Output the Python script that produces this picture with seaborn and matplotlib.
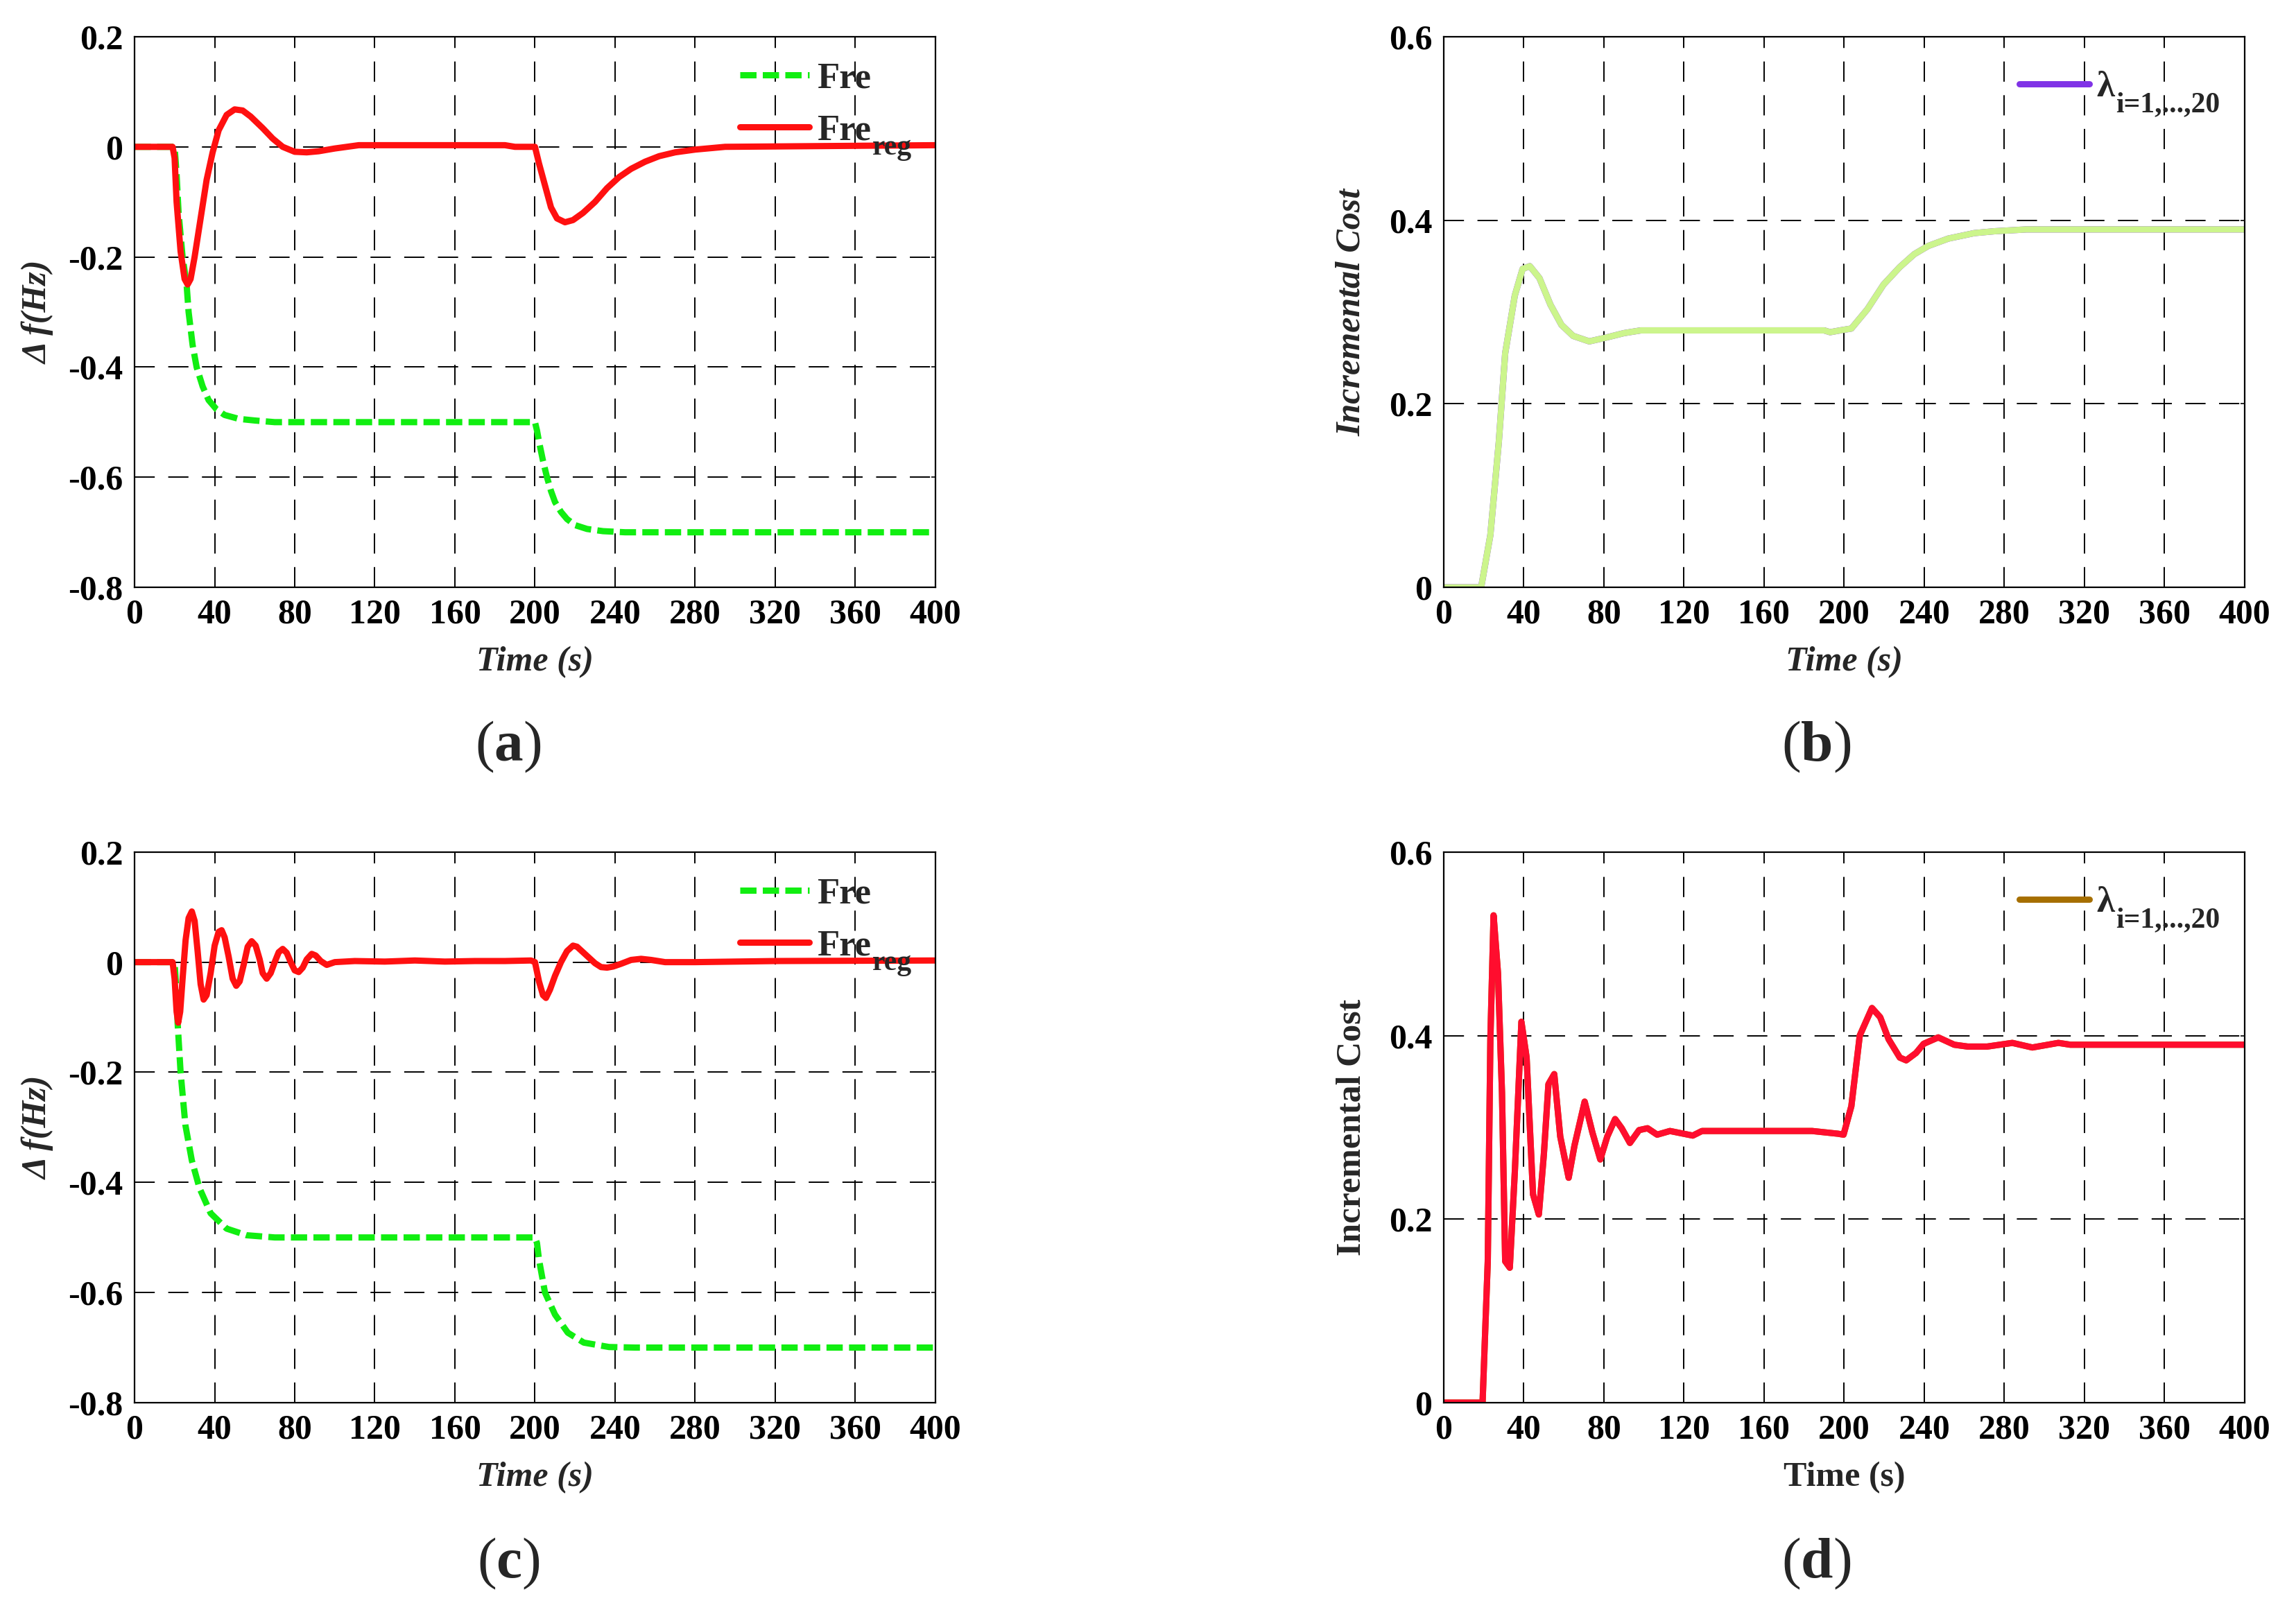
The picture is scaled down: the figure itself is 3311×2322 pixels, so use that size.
import numpy as np
import seaborn as sns
import matplotlib.pyplot as plt

# --------------------------------------------------
# Data
# --------------------------------------------------

TIME_TICKS = [0, 40, 80, 120, 160, 200, 240, 280, 320, 360, 400]
FREQ_TICKS = [-0.8, -0.6, -0.4, -0.2, 0.0, 0.2]
FREQ_TICK_LABELS = ["-0.8", "-0.6", "-0.4", "-0.2", "0", "0.2"]
COST_TICKS = [0.0, 0.2, 0.4, 0.6]
COST_TICK_LABELS = ["0", "0.2", "0.4", "0.6"]

# (a) frequency deviation, unregulated (Fre) and regulated (Fre_reg)
a_fre_t = [0, 20, 21, 22, 24, 26, 27, 29, 31, 34, 37, 41, 45, 52, 60, 70, 200,
           201, 202, 204, 206, 208, 210, 213, 216, 220, 226, 234, 245, 400]
a_fre_v = [0, 0, -0.05, -0.12, -0.2, -0.25, -0.3, -0.36, -0.4, -0.435, -0.46,
           -0.477, -0.487, -0.494, -0.497, -0.5, -0.5,
           -0.515, -0.535, -0.57, -0.6, -0.625, -0.645, -0.663, -0.676, -0.687,
           -0.694, -0.698, -0.7, -0.7]
a_reg_t = [0, 19, 20, 21, 23, 25, 26.5, 28, 30, 33, 36, 39, 42, 46, 50, 54, 58,
           64, 69, 74, 80, 86, 92, 100, 112, 185, 190, 200, 202, 205, 208, 211,
           215, 219, 224, 230, 236, 242, 248, 255, 262, 270, 280, 295, 400]
a_reg_v = [0, 0, -0.02, -0.1, -0.19, -0.24, -0.25, -0.24, -0.2, -0.13, -0.06,
           -0.01, 0.03, 0.058, 0.068, 0.066, 0.055, 0.034, 0.015, 0.0, -0.009,
           -0.01, -0.008, -0.003, 0.003, 0.003, 0.0, 0.0, -0.03, -0.07, -0.11,
           -0.13, -0.137, -0.133, -0.12, -0.1, -0.075, -0.055, -0.04, -0.027,
           -0.017, -0.01, -0.005, 0.0, 0.003]

# (b) incremental cost, smooth controller
b_cost_t = [0, 18.7, 23.3, 27.5, 30.7, 35.5, 39.4, 43, 47.8, 53.3, 58.8, 64.6,
            72.7, 80.8, 90, 98.5, 190, 193, 198, 203.6, 211.6, 219.7, 227.8,
            235, 242, 252, 265, 275, 291, 400]
b_cost_v = [0, 0, 0.057, 0.158, 0.255, 0.318, 0.347, 0.35, 0.337, 0.308,
            0.286, 0.274, 0.268, 0.272, 0.277, 0.28, 0.28, 0.278, 0.28, 0.282,
            0.303, 0.33, 0.349, 0.363, 0.372, 0.38, 0.386, 0.388, 0.39, 0.39]

# (c) frequency deviation, oscillating controller
c_fre_t = [0, 20, 21, 21.5, 23, 25.4, 28.6, 32.4, 38, 46, 56, 70, 200,
           201, 202, 205, 210, 216.4, 224.4, 237, 250, 400]
c_fre_v = [0, 0, -0.06, -0.11, -0.2, -0.296, -0.36, -0.41, -0.456, -0.484,
           -0.496, -0.5, -0.5, -0.51, -0.54, -0.6, -0.64, -0.673, -0.691,
           -0.699, -0.7, -0.7]
c_reg_t = [0, 19, 20, 21, 21.8, 22.8, 24, 25.5, 27, 28.6, 30, 31.5, 33, 34.5,
           36, 38, 40, 42, 43.5, 45, 47, 49, 50.8, 52.5, 54.5, 56.5, 58.5,
           60.5, 62.5, 64, 66, 68, 70, 72, 74, 76, 78, 80, 82, 84, 86, 88.5,
           90.5, 93, 96, 100, 110, 125, 140, 155, 170, 185, 198, 200, 202,
           204, 205.5, 207.5, 210, 213, 216, 219, 221, 224, 227, 230, 233,
           236, 239, 243, 248, 253, 258, 265, 280, 320, 400]
c_reg_v = [0, 0, -0.03, -0.09, -0.11, -0.09, -0.03, 0.04, 0.08, 0.092, 0.075,
           0.02, -0.04, -0.068, -0.06, -0.02, 0.03, 0.055, 0.058, 0.045, 0.01,
           -0.03, -0.043, -0.035, -0.005, 0.028, 0.038, 0.03, 0.005, -0.02,
           -0.03, -0.02, 0.0, 0.018, 0.024, 0.017, 0.0, -0.015, -0.018, -0.01,
           0.005, 0.015, 0.012, 0.002, -0.005, 0.0, 0.002, 0.001, 0.003,
           0.001, 0.002, 0.002, 0.003, 0.0, -0.035, -0.06, -0.065, -0.05,
           -0.025, 0.0, 0.02, 0.03, 0.028, 0.018, 0.008, -0.002, -0.009,
           -0.01, -0.008, -0.003, 0.004, 0.006, 0.004, 0.0, 0.0, 0.002, 0.003]

# (d) incremental cost, oscillating controller
d_cost_t = [0, 19.4, 22, 23.3, 24.9, 27.1, 29.1, 30.7, 33, 35.5, 38.8, 41.4,
            44.6, 47.5, 50, 52.3, 55.2, 58.2, 62.4, 65.3, 70.4, 74.3, 78.2,
            81.7, 85.6, 88.9, 93, 97.6, 101.8, 106.6, 113, 124.4, 129, 184,
            197, 199.7, 203.6, 207.8, 213.9, 218, 222.2, 227.8, 231, 235.9,
            239.7, 247, 255, 261.7, 271.4, 284, 294, 307, 313, 400]
d_cost_v = [0, 0, 0.154, 0.396, 0.531, 0.468, 0.338, 0.154, 0.147, 0.251,
            0.415, 0.376, 0.227, 0.205, 0.27, 0.347, 0.358, 0.29, 0.245, 0.28,
            0.328, 0.294, 0.265, 0.29, 0.309, 0.299, 0.283, 0.297, 0.299,
            0.292, 0.296, 0.291, 0.296, 0.296, 0.293, 0.292, 0.323, 0.4, 0.43,
            0.42, 0.396, 0.376, 0.373, 0.381, 0.391, 0.398, 0.39, 0.388,
            0.388, 0.392, 0.387, 0.392, 0.39, 0.39]

# --------------------------------------------------
# Style
# --------------------------------------------------

sns.set_theme(style="white")
plt.rcParams["font.family"] = ["Liberation Serif", "DejaVu Serif"]
plt.rcParams["font.weight"] = "bold"
plt.rcParams["mathtext.fontset"] = "custom"
plt.rcParams["mathtext.rm"] = "Liberation Serif"
plt.rcParams["mathtext.bf"] = "Liberation Serif:bold"

TICK_FS = 36
LABEL_FS = 36
LEGEND_FS = 38
SUB_FS = 30
PANEL_FS = 60
CURVE_LW = 6.5

GREEN = "#11EE11"
RED = "#FF1010"
LIGHT_GREEN = "#CCF58C"
PURPLE = "#8033E6"
CRIMSON = "#FF0D2E"
BROWN = "#A66F00"

GREEN_DASH = (0, (2.6, 1.0))
GRID_DASH = (0, (15, 10))


def style_axes(ax, yticks, ylabels, ylim):
    ax.set_xlim(0, 400)
    ax.set_ylim(*ylim)
    ax.set_xticks(TIME_TICKS)
    ax.set_xticklabels([str(t) for t in TIME_TICKS])
    ax.set_yticks(yticks)
    ax.set_yticklabels(ylabels)
    ax.tick_params(direction="in", length=4, width=1.2, labelsize=TICK_FS,
                   pad=12, colors="black", top=True, right=True)
    for lab in ax.get_xticklabels() + ax.get_yticklabels():
        lab.set_fontweight("bold")
    ax.grid(True, color="black", linestyle=GRID_DASH, linewidth=1.4)
    for sp in ax.spines.values():
        sp.set_color("black")
        sp.set_linewidth(1.6)
    ax.set_facecolor("white")


def make_legend(ax, anchor):
    leg = ax.legend(loc="upper left", bbox_to_anchor=anchor, frameon=False,
                    fontsize=LEGEND_FS, handlelength=1.9, handletextpad=0.2,
                    labelspacing=0.5, borderaxespad=0, borderpad=0)
    leg.set_zorder(20)
    for txt in leg.get_texts():
        txt.set_fontweight("bold")
    return leg


fig = plt.figure(figsize=(33.11, 23.22), dpi=100)

W = 0.3488
H = 0.342
ax_a = fig.add_axes([0.0586, 0.6352, W, H])
ax_b = fig.add_axes([0.6288, 0.6352, W, H])
ax_c = fig.add_axes([0.0586, 0.1288, W, H])
ax_d = fig.add_axes([0.6288, 0.1288, W, H])

subscripts = []  # (legend, entry index, subscript text)

# --------------------------------------------------
# (a) and (c): frequency deviation
# --------------------------------------------------

for ax, ft, fv, rt, rv in [(ax_a, a_fre_t, a_fre_v, a_reg_t, a_reg_v),
                           (ax_c, c_fre_t, c_fre_v, c_reg_t, c_reg_v)]:
    sns.lineplot(x=ft, y=fv, ax=ax, color=GREEN, linewidth=CURVE_LW,
                 linestyle=GREEN_DASH, estimator=None, sort=False,
                 label="Fre", dash_capstyle="butt")
    sns.lineplot(x=rt, y=rv, ax=ax, color=RED, linewidth=CURVE_LW,
                 estimator=None, sort=False, label="Fre")
    style_axes(ax, FREQ_TICKS, FREQ_TICK_LABELS, (-0.8, 0.2))
    ax.set_xlabel("Time (s)", fontsize=LABEL_FS, fontweight="bold",
                  fontstyle="italic", labelpad=16)
    ax.set_ylabel("Δ f(Hz)", fontsize=LABEL_FS, fontweight="bold",
                  fontstyle="italic", labelpad=14)
    leg = make_legend(ax, (0.756, 0.9534))
    subscripts.append((leg, 1, "reg"))

# --------------------------------------------------
# (b) and (d): incremental cost
# --------------------------------------------------

sns.lineplot(x=b_cost_t, y=b_cost_v, ax=ax_b, color=PURPLE,
             linewidth=CURVE_LW, estimator=None, sort=False, label="λ")
sns.lineplot(x=b_cost_t, y=b_cost_v, ax=ax_b, color=LIGHT_GREEN,
             linewidth=CURVE_LW, estimator=None, sort=False, label="_agents")

sns.lineplot(x=d_cost_t, y=d_cost_v, ax=ax_d, color=BROWN,
             linewidth=CURVE_LW, estimator=None, sort=False, label="λ")
sns.lineplot(x=d_cost_t, y=d_cost_v, ax=ax_d, color=CRIMSON,
             linewidth=CURVE_LW, estimator=None, sort=False, label="_agents")

for ax, italic in [(ax_b, True), (ax_d, False)]:
    style_axes(ax, COST_TICKS, COST_TICK_LABELS, (0, 0.6))
    st = "italic" if italic else "normal"
    ax.set_xlabel("Time (s)", fontsize=LABEL_FS, fontweight="bold",
                  fontstyle=st, labelpad=16)
    ax.set_ylabel("Incremental Cost", fontsize=LABEL_FS, fontweight="bold",
                  fontstyle=st, labelpad=22)
    leg = make_legend(ax, (0.719, 0.938))
    subscripts.append((leg, 0, "i=1,...,20"))

# --------------------------------------------------
# Subscripts placed after the legend text
# --------------------------------------------------

fig.canvas.draw()
renderer = fig.canvas.get_renderer()
SUB_DROP = 22  # px below main baseline
for leg, idx, sub in subscripts:
    txt = leg.get_texts()[idx]
    bb = txt.get_window_extent(renderer)
    _, _, desc = renderer.get_text_width_height_descent(
        "lp", txt.get_fontproperties(), ismath=False)
    baseline = bb.y0 + desc
    fx, fy = fig.transFigure.inverted().transform((bb.x1 + 2, baseline - SUB_DROP))
    fig.text(fx, fy, sub, fontsize=SUB_FS, fontweight="bold",
             ha="left", va="baseline", zorder=30)

# --------------------------------------------------
# Panel letters
# --------------------------------------------------

for x, y, letter in [(0.2214, 0.536, "a"), (0.791, 0.536, "b"),
                     (0.2214, 0.0289, "c"), (0.791, 0.0289, "d")]:
    fig.text(x, y, "(" + r"$\mathbf{" + letter + "}$" + ")",
             fontsize=PANEL_FS, fontweight="normal", ha="center", va="center")

fig.savefig("out.png", dpi=100, facecolor="white")
